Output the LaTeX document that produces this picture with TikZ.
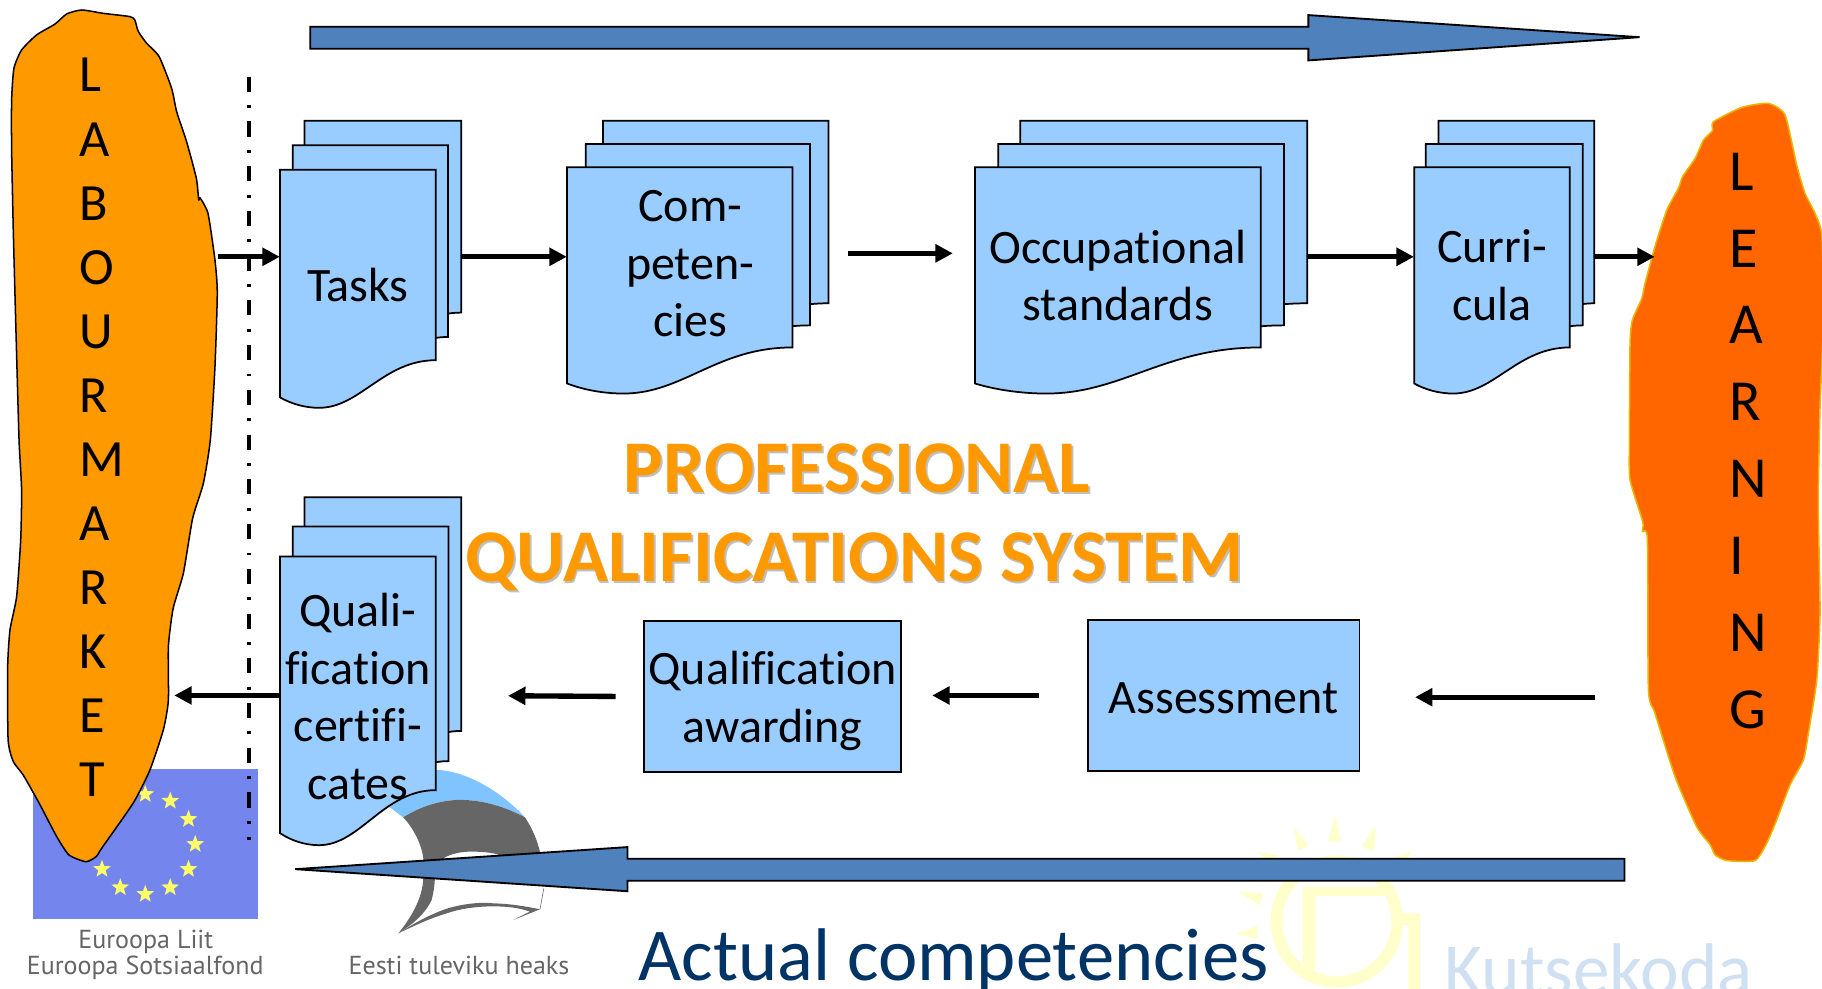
\documentclass[tikz,border=0pt]{standalone}
\usepackage{fontspec}
\setmainfont[Ligatures=CommonOff]{Carlito}
\newfontfamily\logofont{PT Sans}
\usetikzlibrary{arrows.meta,shapes.geometric}
\definecolor{sheetblue}{HTML}{99CCFF}
\definecolor{arrowblue}{HTML}{4F81BD}
\definecolor{market}{HTML}{FF9900}
\definecolor{learn}{HTML}{FF6600}
\definecolor{learnedge}{HTML}{E8B800}
\definecolor{eublue}{HTML}{7585EE}
\definecolor{eustar}{HTML}{FFFF66}
\definecolor{navy}{HTML}{003366}
\definecolor{logogray}{HTML}{666666}
\definecolor{logosky}{HTML}{80C4FF}
\definecolor{sunpale}{HTML}{FFFFCC}
\definecolor{kutse}{HTML}{CFE0F2}
\newcommand{\bodyfont}{\fontsize{41.3}{49.7}\selectfont}
\newcommand{\headfont}{\fontsize{64}{66}\selectfont\bfseries}
\newcommand{\logotext}{\logofont\fontsize{22.4}{25}\selectfont}
\tikzset{
  sheet/.style={draw=black,fill=sheetblue,line width=1.5pt,line join=miter},
  plainbox/.style={sheet,inner sep=0pt},
  label/.style={inner sep=0pt,align=center,font=\bodyfont},
  slot/.style={inner sep=0pt,minimum height=20pt},
  conn/.style={line width=4.6pt,-{Triangle[length=15pt,width=15pt]}},
  bigarrow/.style={draw=black,fill=arrowblue,line width=1.6pt,line join=miter},
  letter/.style={inner sep=0pt,font=\fontsize{45}{50}\selectfont,anchor=west},
  bigletter/.style={inner sep=0pt,font=\fontsize{50}{50}\selectfont,anchor=west},
  euletter/.style={inner sep=0pt,text=logogray,font=\logotext},
  eustarshape/.style={star,star points=5,star point ratio=2.4,minimum size=16pt,inner sep=0pt,fill=eustar},
  head/.style={inner sep=0pt,font=\headfont},
}
% xL, yTop, xR, yRightBottom, yLeftBottom
\newcommand{\docsheet}[5]{%
  \draw[sheet] (#1,#2) -- (#3,#2) -- (#3,#4)
    .. controls ({#3-.336*(#3-#1)},#4) and ({#3-.485*(#3-#1)},{#4+1.28*(#5-#4)}) ..
       ({#3-.75*(#3-#1)},{#4+1.28*(#5-#4)})
    .. controls ({#3-.84*(#3-#1)},{#4+1.28*(#5-#4)}) and ({#3-.93*(#3-#1)},{#4+1.17*(#5-#4)}) ..
       (#1,#5) -- cycle;}
\begin{document}
\begin{tikzpicture}[x=1pt,y=-1pt]
\useasboundingbox (0,0) rectangle (1568,851);
\clip (0,0) rectangle (1568,851);
\fill[white] (0,0) rectangle (1568,851);

% Kutsekoda logo (faded)
\fill[sunpale,even odd rule] (1150.5,793) ellipse [x radius=57,y radius=57] (1150.5,793) ellipse [x radius=47,y radius=47];
\fill[sunpale] (1121,763) -- (1193,763) -- (1193,771) -- (1132,771) -- (1132,840) -- (1121,840) -- cycle;
\fill[sunpale] (1207,786) -- (1222,786) -- (1222,851) -- (1212,851) -- (1212,796) -- (1207,796) -- cycle;
\fill[sunpale] (1149,701) -- (1143,724) -- (1154,724) -- cycle;
\fill[sunpale] (1113,711) -- (1126,728) -- (1117,732) -- cycle;
\fill[sunpale] (1184.6,710) -- (1182,733) -- (1172,728) -- cycle;
\fill[sunpale] (1065,767) -- (1087,769) -- (1084,779) -- cycle;
\fill[sunpale] (1064,803.5) -- (1082,797) -- (1082,808) -- cycle;
\fill[sunpale] (1082,733) -- (1100,736) -- (1094,744) -- cycle;
\fill[sunpale] (1215,732) -- (1200,738) -- (1207,745) -- cycle;
\node[inner sep=0pt,anchor=base west,text=kutse,font=\fontsize{63}{63}\selectfont] (kutsekoda) at (1243,856) {Kutsekoda};

% Estonia logo
\fill[logosky] (332.7,692.7) -- (345,672) -- (375.8,662.6)
   .. controls (392,663) and (412,671) .. (430,684)
   .. controls (438,690) and (446,697) .. (451.8,703.4)
   .. controls (430,692) and (412,688.4) .. (395.9,688.4)
   .. controls (378,688.4) and (360,695) .. (347,703.4) -- cycle;
\fill[logogray] (347,703.4) .. controls (360,695) and (378,688.4) .. (395.9,688.4)
   .. controls (412,688.4) and (430,692) .. (451.8,703.4)
   .. controls (458,713) and (462,722) .. (464.7,733) -- (464.7,737) -- (433,737)
   .. controls (424,733) and (412,732.9) .. (404.5,732.9)
   .. controls (396,733) and (388,735) .. (383,737.8) -- (375,745) -- (364.3,745) -- (364.3,738.6)
   .. controls (363,728) and (357,714) .. (347,703.4) -- cycle;
\fill[logogray] (364.3,755) -- (374.3,755) .. controls (374,765) and (372,772) .. (371.5,774.5)
   .. controls (366,786) and (356,795) .. (342.8,803.2)
   .. controls (352,792) and (364,774) .. (364.3,755) -- cycle;
\fill[logogray] (342.8,803.2) .. controls (356,795) and (366,789) .. (381.5,783)
   .. controls (396,777.8) and (415,776) .. (424.5,777.4)
   .. controls (440,777.8) and (452,780) .. (464.7,782.5) -- (441.8,791.7) -- (456,784.5)
   .. controls (446,781) and (436,780) .. (424.5,780)
   .. controls (410,780) and (396,782) .. (384.4,786)
   .. controls (368,791) and (356,797) .. (342.8,803.2) -- cycle;
\draw[logogray,line width=.5pt] (468,764.5) -- (464.7,782.5);
\node[euletter,anchor=base] (eesti) at (395,839) {Eesti tuleviku heaks};

% EU flag
\fill[eublue] (28,662) rectangle (222,791);
\foreach \a in {0,30,...,330}
  \node[eustarshape] at ({125+43*cos(\a)},{726.5+43*sin(\a)}) {};
\node[euletter,anchor=base] (liit) at (125.5,816) {Euroopa Liit};
\node[euletter,anchor=base] (fond) at (125,839) {Euroopa Sotsiaalfond};

% Labour market blob
\draw[fill=market,draw=black,line width=1.3pt,line join=round]
  plot[smooth cycle,tension=.35] coordinates {
  (70.3,8.6) (89,11.5) (111.9,14.3) (116,17.2) (119,27) (126,37) (137,48.8) (147.7,76) (152,96)
  (160.6,122) (169,153.5) (171,172) (172,170) (179,183.6) (185,223.8) (187,252) (185,315.6) (181,378.7)
  (175,416) (165.8,446) (157.8,493.4) (149,523.6) (144.9,556.5) (144.9,602.5) (140.6,628)
  (129,662.7) (114.7,691) (87.5,730) (83,737) (74,741.6) (59.4,735.8) (48.8,720) (33.8,691.4)
  (20,667) (11.5,655.5) (7,637) (6.6,573.8) (8.6,542) (14.3,513.5) (17.8,464.8) (18.6,421.7)
  (16.4,378.7) (13.8,287) (11.5,200.8) (10,129) (10,86) (12,58.8) (18.6,43) (31.6,30) (47.3,20.7) (57.4,12)};

% Learning blob
\draw[fill=learn,draw=learnedge,line width=1.3pt,line join=round]
  plot[smooth cycle,tension=.35] coordinates {
  (1521.9,89) (1536.2,99) (1546.2,142) (1553.4,166.4) (1562,183.6) (1568,203.7) (1569,280) (1566.3,350)
  (1565,413) (1565,450) (1566.3,527.7) (1563.5,585) (1556.3,631) (1552,654) (1540.5,675.5) (1529,705.6)
  (1520.4,725.7) (1510.4,740.6) (1486,740.6) (1476,735.7) (1471.7,727) (1460,711.3) (1441.5,668.3)
  (1424.3,613.8) (1418.6,593.7) (1417.7,464.6) (1413.5,457.5) (1413.7,448.9) (1402.8,413)
  (1402.2,380) (1402.8,295.5) (1404.8,275.4) (1412.9,256.8) (1415.7,243.9) (1424.3,212) (1434.4,180.8)
  (1444.4,162) (1448,152) (1458.8,136.3) (1466,120.5) (1473.7,112.5) (1474.5,104.8) (1499,92.4)};

% Upper row sheets
\docsheet{262}{104}{397}{269}{301}
\docsheet{252}{125}{385.5}{290}{322}
\docsheet{241}{146}{375}{310}{342}
\docsheet{519}{104}{713}{261}{292}
\docsheet{504}{124}{697}{280}{311}
\docsheet{488}{144}{682}{299}{330}
\docsheet{878}{104}{1125}{261}{292}
\docsheet{859}{124}{1105}{280}{311}
\docsheet{839}{144}{1085}{299}{330}
\docsheet{1238}{104}{1372}{261}{292}
\docsheet{1227}{124}{1362}{280}{311}
\docsheet{1217}{144}{1351}{299}{330}
% Certificates sheets
\docsheet{262}{428}{397}{629}{667}
\docsheet{252}{453}{386}{655}{693}
\docsheet{241}{479}{375}{680}{717}

% Sheet labels
\node[label] (tasklabel) at (308,245) {Tasks};
\node[label] (complabel) at (594,227) {Com-\\peten-\\cies};
\node[label] (occlabel) at (962,237) {Occupational\\standards};
\node[label] (currlabel) at (1284,237) {Curri-\\cula};
\node[label] (certlabel) at (308,599.5) {Quali-\\fication\\certifi-\\cates};

% Connector anchors spanning each stack
\node[slot,minimum width=156pt] (tasks) at (319,221) {};
\node[slot,minimum width=225pt] (comp) at (600.5,221) {};
\node[slot,minimum width=286pt] (occ) at (982,221) {};
\node[slot,minimum width=155pt] (curr) at (1294.5,221) {};
\node[slot,minimum width=156pt] (cert) at (319,598.5) {};

% Plain boxes
\node[plainbox,minimum width=221pt,minimum height=130pt] (award) at (665,599.5) {};
\node[plainbox,minimum width=234pt,minimum height=130pt] (assess) at (1053,598.5) {};
\node[label] (awardlabel) at (665,603) {Qualification\\awarding};
\node[label] (assesslabel) at (1053,600.5) {Assessment};

% Free connector ends
\coordinate (marketout) at (188,221);
\coordinate (learnin) at (1424,221);
\coordinate (learnout) at (1373,600);
\coordinate (marketin) at (150,598.5);
\coordinate (compout) at (730,218);
\coordinate (occin) at (820,218);

% Dash-dot boundary
\draw[line width=3.2pt,dash pattern=on 13pt off 11.5pt on 2.5pt off 11.5pt] (214,66) -- (214,723);

% Connectors
\draw[conn] (marketout) -- (tasks.west);
\draw[conn] (tasks.east) -- (comp.west);
\draw[conn] (compout) -- (occin);
\draw[conn] (occ.east) -- (curr.west);
\draw[conn] (curr.east) -- (learnin);
\draw[conn,shorten >=47pt] (learnout) -- (assess.east |- learnout);
\draw[conn,shorten <=41pt,shorten >=26pt] (assess.west) -- (award.east |- assess.west);
\draw[conn,shorten <=24pt,shorten >=40pt] (award.west) -- (cert.east);
\draw[conn] (cert.west) -- (marketin);

% Big arrows
\draw[bigarrow] (267,23) -- (1126,23) -- (1126,13) -- (1411,32) -- (1126,52) -- (1126,42) -- (267,42) -- cycle;
\draw[bigarrow] (1398,739) -- (540,739) -- (540,729) -- (254,748) -- (540,767) -- (540,758) -- (1398,758) -- cycle;

% Vertical words
\foreach \c/\y in {L/64.5,A/120,B/175,O/230.5,U/285.5,R/340.5,M/395.5,A/450.5,R/506,K/561,E/616,T/671}
  \node[letter] at (68,\y) {\c};
\foreach \c/\y in {L/148,E/214,A/280,R/346,N/412,I/478.5,N/544.5,G/611}
  \node[bigletter] at (1488.5,\y) {\c};

% Title
\node[head,text=black!25] at (739,405) {PROFESSIONAL};
\node[head,text=black!25] at (737,485.5) {QUALIFICATIONS SYSTEM};
\node[head,text=market] (title1) at (737.5,403) {PROFESSIONAL};
\node[head,text=market] (title2) at (735.5,483.5) {QUALIFICATIONS SYSTEM};

% Bottom caption
\node[inner sep=0pt,anchor=base,text=navy,font=\fontsize{64.2}{64}\selectfont] (actual) at (820.5,844) {Actual competencies};
\end{tikzpicture}
\end{document}
